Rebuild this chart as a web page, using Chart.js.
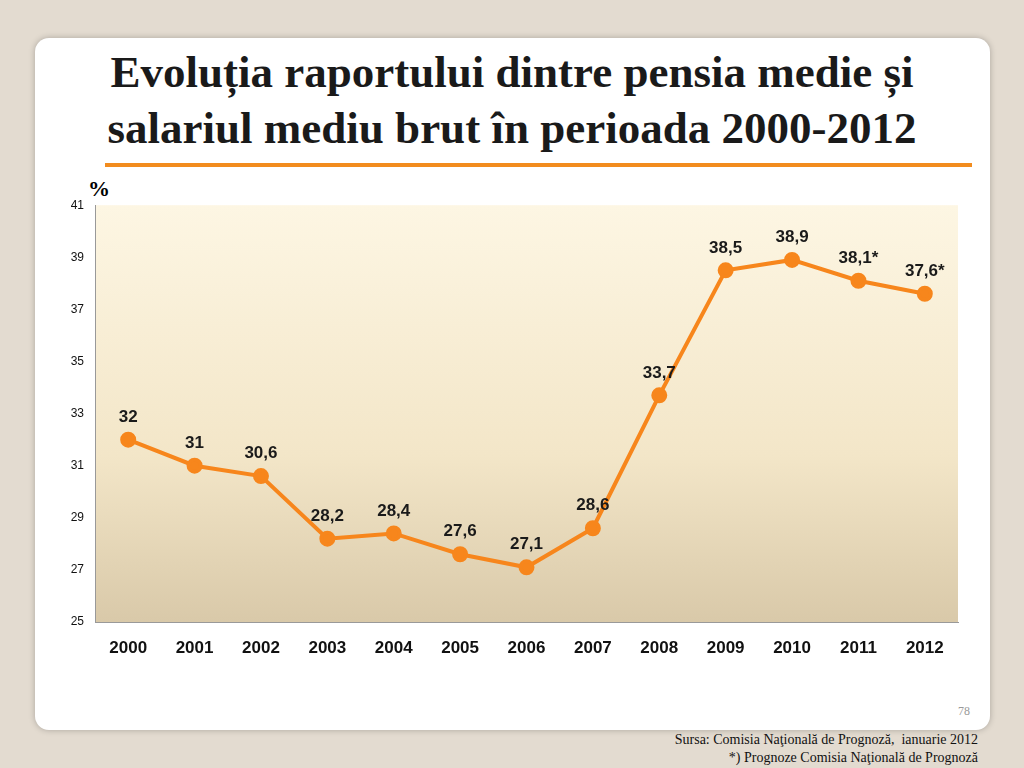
<!DOCTYPE html>
<html><head><meta charset="utf-8">
<script src="https://cdn.jsdelivr.net/npm/chart.js@4/dist/chart.umd.min.js"></script>
<style>
body{margin:0;width:1024px;height:768px;background:#e3dbd0;position:relative;overflow:hidden;font-family:"Liberation Serif","Times New Roman",serif}
#card{position:absolute;left:35px;top:38px;width:955px;height:692px;background:#fff;border-radius:14px;box-shadow:0 0 6px rgba(0,0,0,.25)}
#title{position:absolute;left:0;top:44px;width:1024px;text-align:center;font-weight:bold;font-size:45px;line-height:56px;color:#1a1a1a}
#rule{position:absolute;left:105px;top:163px;width:867px;height:4px;background:#f28c1e}
#pct{position:absolute;left:88px;top:176px;font-weight:bold;font-size:22px;font-family:"Liberation Serif",serif}
#pg{position:absolute;left:958px;top:704px;font-size:12px;color:#999}
#src{position:absolute;right:46px;top:731px;text-align:right;font-size:14px;line-height:18px;color:#111}
#box{position:absolute;left:40px;top:195px;width:930px;height:467px}
</style></head><body>
<div id="card"></div>
<div id="title">Evoluția raportului dintre pensia medie și<br>salariul mediu brut în perioada 2000-2012</div>
<div id="rule"></div>
<div id="pct">%</div>
<div id="pg">78</div>
<div id="src">Sursa: Comisia Naţională de Prognoză,&nbsp; ianuarie 2012<br>*) Prognoze Comisia Naţională de Prognoză</div>
<div id="box"><canvas id="c"></canvas></div>
<script>
const years=["2000","2001","2002","2003","2004","2005","2006","2007","2008","2009","2010","2011","2012"];
const values=[32,31,30.6,28.2,28.4,27.6,27.1,28.6,33.7,38.5,38.9,38.1,37.6];
const labels=["32","31","30,6","28,2","28,4","27,6","27,1","28,6","33,7","38,5","38,9","38,1*","37,6*"];
const bg={id:'bg',beforeDraw(ch){const a=ch.chartArea,c=ch.ctx;const g=c.createLinearGradient(0,a.top,0,a.bottom);g.addColorStop(0,'#fdf6e3');g.addColorStop(0.6,'#f3e6c8');g.addColorStop(1,'#d9c9a9');c.save();c.fillStyle=g;c.fillRect(a.left,a.top,a.width,a.height);c.restore();}};
const dl={id:'dl',afterDatasetsDraw(ch){const c=ch.ctx,m=ch.getDatasetMeta(0);c.save();c.font='bold 17px "Liberation Sans",Arial';c.fillStyle='#1a1a1a';c.textAlign='center';c.textBaseline='bottom';
m.data.forEach((p,i)=>{c.fillText(labels[i],p.x,p.y-14);});c.restore();}};
new Chart(document.getElementById('c'),{type:'line',
data:{labels:years,datasets:[{data:values,borderColor:'#f7861c',backgroundColor:'#f7861c',borderWidth:4,pointRadius:6,pointHoverRadius:6,tension:0}]},
options:{responsive:true,maintainAspectRatio:false,animation:false,layout:{padding:{top:10,right:12}},
plugins:{legend:{display:false},tooltip:{enabled:false}},
scales:{
x:{offset:true,grid:{display:false,drawTicks:true},border:{color:'#999'},ticks:{color:'#111',font:{family:'"Liberation Sans",Arial',size:17,weight:'bold'},padding:8},afterFit(s){s.height=40;}},
y:{min:25,max:41,ticks:{stepSize:2,color:'#111',font:{family:'"Liberation Sans",Arial',size:12}},grid:{display:false},border:{color:'#999'},afterFit(s){s.width=55;}}}},
plugins:[bg,dl]});
</script></body></html>
